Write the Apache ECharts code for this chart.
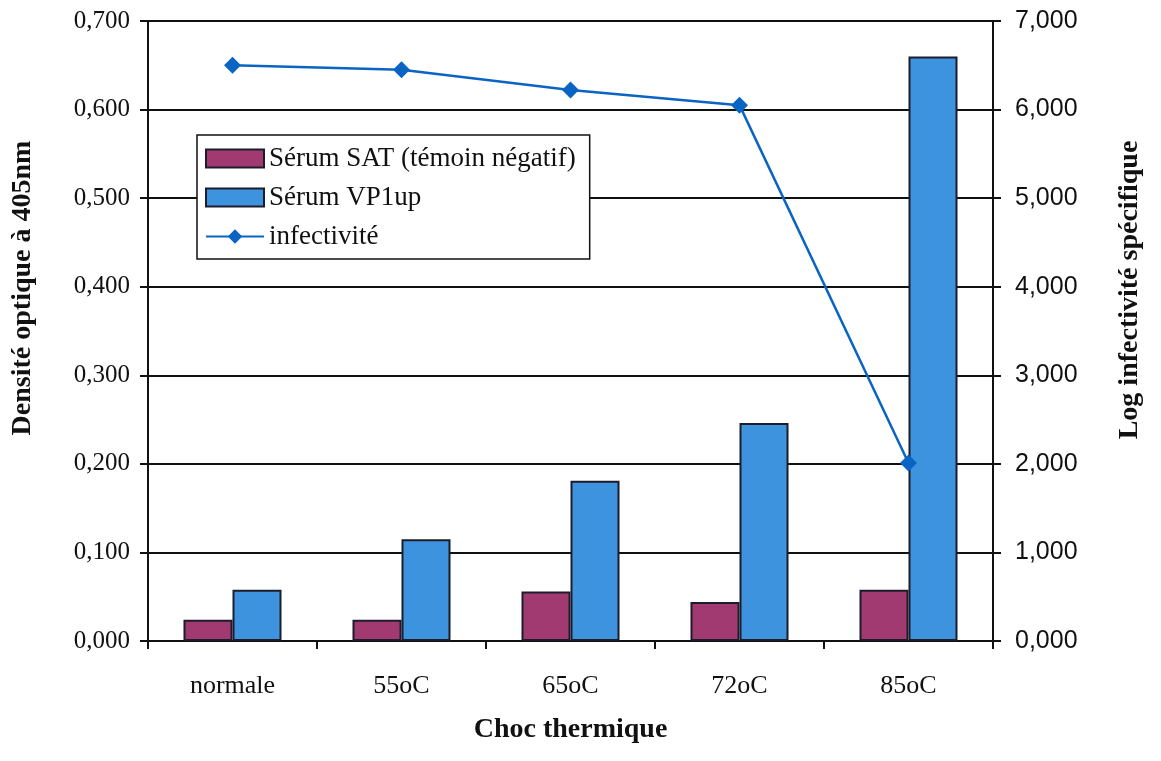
<!DOCTYPE html>
<html><head><meta charset="utf-8">
<script src="https://cdn.jsdelivr.net/npm/echarts@6/dist/echarts.min.js"></script>
<style>html,body{margin:0;padding:0;background:#fff}#c{width:1161px;height:761px}</style>
</head><body><div id="c"></div>
<script>
const categories = ['normale', '55oC', '65oC', '72oC', '85oC'];
const serumSAT = [0.024, 0.024, 0.056, 0.044, 0.058];
const serumVP1up = [0.058, 0.115, 0.181, 0.246, 0.660];
const infectivite = [6.50, 6.45, 6.22, 6.05, 2.01];
const leftTicks = [0, 0.1, 0.2, 0.3, 0.4, 0.5, 0.6, 0.7];
const rightTicks = [0, 1, 2, 3, 4, 5, 6, 7];
const titles = { x: 'Choc thermique', left: 'Densité optique à 405nm', right: 'Log infectivité spécifique' };

const fmt = v => v.toFixed(3).replace('.', ',');
const serif = '"Liberation Serif", "DejaVu Serif", serif';
const sans = '"Liberation Sans", Arial, sans-serif';

const chart = echarts.init(document.getElementById('c'));
chart.setOption({
  animation: false,
  backgroundColor: '#fff',
  grid: { left: 148, right: 168, top: 21, bottom: 120, outerBoundsMode: 'none', containLabel: false },
  legend: {
    orient: 'vertical', left: 197, top: 135,
    backgroundColor: '#fff', borderColor: '#111', borderWidth: 1.5,
    padding: [10, 14, 9, 8], itemGap: 12, itemWidth: 58, itemHeight: 18,
    textStyle: { fontFamily: serif, fontSize: 27, lineHeight: 26, color: '#111' },
    data: [
      { name: 'Sérum SAT (témoin négatif)', icon: 'rect' },
      { name: 'Sérum VP1up', icon: 'rect' },
      { name: 'infectivité' }
    ]
  },
  graphic: [
    { type: 'text', x: 23, y: 288, rotation: Math.PI / 2,
      style: { text: titles.left, align: 'center', verticalAlign: 'middle',
        font: 'bold 28px "Liberation Serif", serif', fill: '#111' } },
    { type: 'text', x: 1130, y: 290, rotation: Math.PI / 2,
      style: { text: titles.right, align: 'center', verticalAlign: 'middle',
        font: 'bold 28px "Liberation Serif", serif', fill: '#111' } }
  ],
  xAxis: {
    type: 'category', data: categories,
    name: titles.x, nameLocation: 'middle', nameGap: 75,
    nameTextStyle: { fontFamily: serif, fontSize: 28, fontWeight: 'bold', color: '#111' },
    axisLine: { lineStyle: { color: '#111', width: 2 } },
    axisTick: { show: true, length: 8, lineStyle: { color: '#111', width: 2 } },
    axisLabel: { fontFamily: serif, fontSize: 26, color: '#111', margin: 32 }
  },
  yAxis: [{
    type: 'value', min: leftTicks[0], max: leftTicks[leftTicks.length - 1], interval: 0.1,
    axisLine: { show: true, lineStyle: { color: '#111', width: 2 } },
    axisTick: { show: true, length: 8, lineStyle: { color: '#111', width: 2 } },
    axisLabel: { fontFamily: serif, fontSize: 25, color: '#111', margin: 18, formatter: v => fmt(v) },
    splitLine: { lineStyle: { color: '#111', width: 2 } }
  }, {
    type: 'value', position: 'right', min: rightTicks[0], max: rightTicks[rightTicks.length - 1], interval: 1,
    axisLine: { show: true, lineStyle: { color: '#111', width: 2 } },
    axisTick: { show: true, length: 8, lineStyle: { color: '#111', width: 2 } },
    axisLabel: { fontFamily: sans, fontSize: 25, color: '#111', margin: 22, formatter: v => fmt(v) },
    splitLine: { show: false }
  }],
  series: [{
    name: 'Sérum SAT (témoin négatif)', type: 'bar', data: serumSAT,
    barGap: '0%', barCategoryGap: '42%',
    itemStyle: { color: '#a23a72', borderColor: '#1c1c2a', borderWidth: 2 }
  }, {
    name: 'Sérum VP1up', type: 'bar', data: serumVP1up,
    itemStyle: { color: '#3e93de', borderColor: '#1c1c2a', borderWidth: 2 }
  }, {
    name: 'infectivité', type: 'line', yAxisIndex: 1, data: infectivite,
    symbol: 'diamond', symbolSize: 17,
    lineStyle: { color: '#0a64c4', width: 2.5 },
    itemStyle: { color: '#0a64c4' }
  }]
});
</script></body></html>
